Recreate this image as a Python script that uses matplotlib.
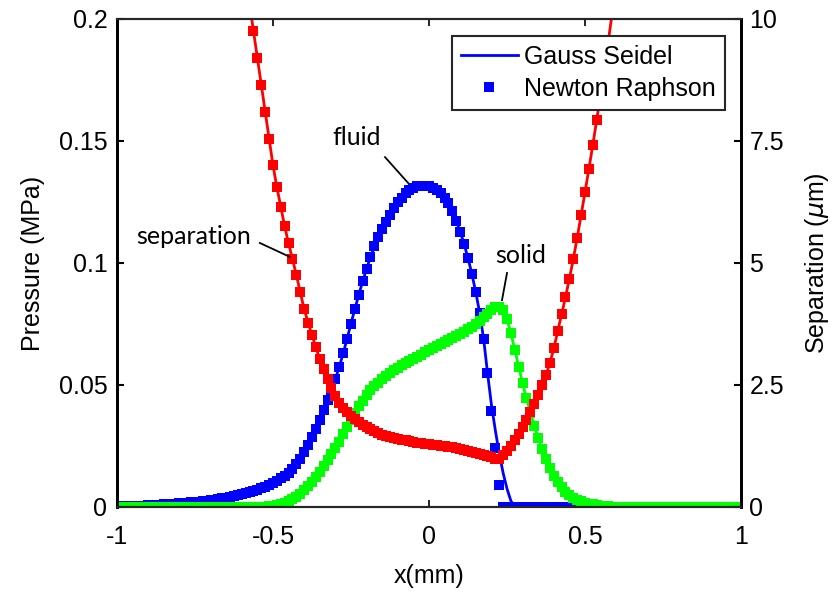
import numpy as np
import matplotlib
matplotlib.use("Agg")
import matplotlib.pyplot as plt

plt.rcParams['font.family'] = ['Liberation Sans', 'DejaVu Sans']
plt.rcParams['axes.unicode_minus'] = False

# shared x grid (mm), dx = 0.0125
x = np.linspace(-1, 1, 161)

# fluid pressure (MPa), Newton Raphson markers
nr_fluid = [0.0003, 0.0003, 0.0004, 0.0004, 0.0005, 0.0005, 0.0006, 0.0006, 0.0007, 0.0008,
            0.0009, 0.0010, 0.0011, 0.0012, 0.0013, 0.0014, 0.0015, 0.0016, 0.0018, 0.0019,
            0.0021, 0.0022, 0.0024, 0.0026, 0.0028, 0.0030, 0.0032, 0.0035, 0.0038, 0.0041,
            0.0045, 0.0048, 0.0052, 0.0056, 0.0061, 0.0066, 0.0071, 0.0077, 0.0084, 0.0091,
            0.0100, 0.0108, 0.0117, 0.0128, 0.0140, 0.0155, 0.0175, 0.0198, 0.0225, 0.0255,
            0.0287, 0.0320, 0.0357, 0.0397, 0.0438, 0.0480, 0.0525, 0.0575, 0.0630, 0.0690,
            0.0752, 0.0812, 0.0870, 0.0925, 0.0977, 0.1024, 0.1068, 0.1106, 0.1140, 0.1170,
            0.1198, 0.1224, 0.1248, 0.1268, 0.1285, 0.1298, 0.1308, 0.1314, 0.1317, 0.1317,
            0.1314, 0.1308, 0.1299, 0.1286, 0.1268, 0.1245, 0.1212, 0.1172, 0.1128, 0.1078,
            0.1020, 0.0955, 0.0880, 0.0795, 0.0690, 0.0550, 0.0395, 0.0240, 0.0090] + [0.0] * 62

# Gauss Seidel line: same as markers except near the cavitation boundary
gs_fluid_tail = [0.0420, 0.0315, 0.0220, 0.0140, 0.0075, 0.0025, 0.0]
gs_fluid = nr_fluid[:96] + gs_fluid_tail + [0.0] * 58

# solid (asperity) pressure (MPa)
solid = [0.0] * 37 + [
    0.0001, 0.0002, 0.0004, 0.0006, 0.0009, 0.0013, 0.0018, 0.0025, 0.0033, 0.0043,
    0.0055, 0.0069, 0.0085, 0.0103, 0.0123, 0.0145, 0.0168, 0.0192, 0.0217, 0.0242,
    0.0268, 0.0298, 0.0328, 0.0357, 0.0385, 0.0412, 0.0436, 0.0458, 0.0478, 0.0495,
    0.0510, 0.0524, 0.0537, 0.0549, 0.0560, 0.0570, 0.0580, 0.0589, 0.0598, 0.0607,
    0.0616, 0.0625, 0.0634, 0.0643, 0.0651, 0.0659, 0.0667, 0.0675, 0.0683, 0.0691,
    0.0700, 0.0709, 0.0718, 0.0728, 0.0739, 0.0751, 0.0764, 0.0778, 0.0793, 0.0807,
    0.0818, 0.0820, 0.0806, 0.0772, 0.0712, 0.0645, 0.0575, 0.0507, 0.0445, 0.0387,
    0.0333, 0.0283, 0.0237, 0.0195, 0.0158, 0.0127, 0.0101, 0.0080, 0.0063, 0.0049,
    0.0038, 0.0030, 0.0023, 0.0018, 0.0014, 0.0011, 0.0008, 0.0006, 0.0004, 0.0003,
    0.0002, 0.0001] + [0.0] * 32

# separation (um), x from -0.6 to 0.6
x_sep = x[32:129]
sep = [11.4, 10.85, 10.3, 9.75, 9.2, 8.65, 8.1, 7.55, 7.0, 6.55,
       6.15, 5.75, 5.40, 5.08, 4.75, 4.40, 4.05, 3.78, 3.52, 3.27,
       3.03, 2.82, 2.62, 2.44, 2.28, 2.14, 2.03, 1.94, 1.87, 1.80,
       1.74, 1.68, 1.63, 1.59, 1.55, 1.51, 1.48, 1.46, 1.44, 1.42,
       1.40, 1.38, 1.37, 1.35, 1.33, 1.32, 1.31, 1.30, 1.29, 1.28,
       1.27, 1.26, 1.24, 1.23, 1.22, 1.20, 1.18, 1.17, 1.15, 1.13,
       1.11, 1.09, 1.07, 1.04, 1.02, 0.99, 0.99, 1.06, 1.15, 1.25,
       1.37, 1.50, 1.64, 1.79, 1.94, 2.12, 2.30, 2.50, 2.70, 2.95,
       3.25, 3.60, 3.95, 4.30, 4.68, 5.08, 5.52, 5.98, 6.45, 6.93,
       7.42, 7.93, 8.46, 9.0, 9.56, 10.14, 10.74]

blue, green, red = '#0000ff', '#00ff00', '#ff0000'
ms = 6.5
fs = 18

fig = plt.figure(figsize=(8.37, 5.94), dpi=100)
ax1 = fig.add_axes([117 / 837, 87 / 594, 624 / 837, 488 / 594])
ax2 = ax1.twinx()

ax1.plot(x, gs_fluid, '-', color=blue, lw=2, label='Gauss Seidel')
ax1.plot(x, solid, '-', color=green, lw=2)
ax1.plot(x, nr_fluid, 's', color=blue, ms=ms, mew=0, label='Newton Raphson')
ax1.plot(x, solid, 's', color=green, ms=ms, mew=0)

ax2.plot(x_sep, sep, '-', color=red, lw=2)
ax2.plot(x_sep, sep, 's', color=red, ms=ms, mew=0)

ax1.set_xlim(-1, 1)
ax1.set_ylim(0, 0.2)
ax2.set_ylim(0, 10)
ax1.set_xticks([-1, -0.5, 0, 0.5, 1])
ax1.set_xticklabels(['-1', '-0.5', '0', '0.5', '1'])
ax1.set_yticks([0, 0.05, 0.1, 0.15, 0.2])
ax1.set_yticklabels(['0', '0.05', '0.1', '0.15', '0.2'])
ax2.set_yticks([0, 2.5, 5, 7.5, 10])
ax2.set_yticklabels(['0', '2.5', '5', '7.5', '10'])

ax1.tick_params(axis='x', direction='in', top=True, length=5, width=1.2, labelsize=fs, pad=13)
ax1.tick_params(axis='y', direction='in', length=5, width=1.5, labelsize=fs, pad=7)
ax2.tick_params(axis='y', direction='in', length=5, width=1.5, labelsize=fs, pad=6)

for ax in (ax1, ax2):
    ax.spines['top'].set_color('#262626')
    ax.spines['bottom'].set_color('#262626')
    ax.spines['top'].set_linewidth(1.5)
    ax.spines['bottom'].set_linewidth(1.5)
    ax.spines['left'].set_color('k')
    ax.spines['right'].set_color('k')
    ax.spines['left'].set_linewidth(2)
    ax.spines['right'].set_linewidth(2)

ax1.set_xlabel('x(mm)', fontsize=fs, labelpad=11)
ax1.set_ylabel('Pressure (MPa)', fontsize=fs, labelpad=10)
ax2.set_ylabel(r'Separation ($\mu$m)', fontsize=fs, labelpad=14)

# annotations (in pressure-axis coordinates)
tr = ax1.transData
afont = dict(family=['Lato', 'DejaVu Sans'], fontsize=18, ha='center', va='center')
ax2.plot([-0.141, -0.067], [0.1434, 0.1328], color='k', lw=1.3, transform=tr)
ax2.text(-0.231, 0.1516, 'fluid', transform=tr, **afont)
ax2.plot([-0.542, -0.446], [0.1082, 0.1025], color='k', lw=1.3, transform=tr)
ax2.text(-0.756, 0.1107, 'separation', transform=tr, **afont)
ax2.plot([0.25, 0.234], [0.0959, 0.0848], color='k', lw=1.3, transform=tr)
ax2.text(0.295, 0.1029, 'solid', transform=tr, **afont)

h1, l1 = ax1.get_legend_handles_labels()
leg = ax2.legend(h1, l1, loc='upper right', bbox_to_anchor=(0.974, 0.965), fontsize=fs,
                 frameon=True, fancybox=False, edgecolor='#262626', framealpha=1,
                 handlelength=2.3, handletextpad=0.25, borderpad=0.35, labelspacing=0.32,
                 borderaxespad=0)
leg.get_frame().set_linewidth(1.5)

fig.savefig('out.png', dpi=100)
